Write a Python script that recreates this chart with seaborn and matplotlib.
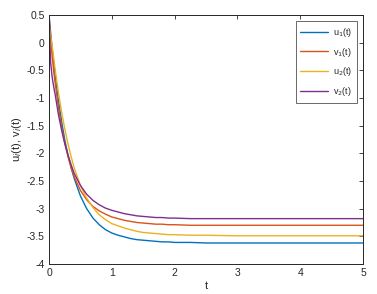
import numpy as np
import pandas as pd
import matplotlib
matplotlib.use("Agg")
import matplotlib.pyplot as plt
import seaborn as sns

# values
t = [0, 0.025, 0.05, 0.075, 0.1, 0.15, 0.2, 0.25, 0.3, 0.35, 0.4, 0.5, 0.6, 0.7, 0.8, 0.9, 1.0,
     1.1, 1.2, 1.3, 1.4, 1.5, 1.6, 1.7, 1.8, 1.9, 2.0, 2.25, 2.5, 3.0, 4.0, 5.0]
u1 = [0.5, 0.19, -0.10, -0.37, -0.61, -1.05, -1.42, -1.75, -2.02, -2.25, -2.45, -2.77, -3.00, -3.17,
      -3.29, -3.38, -3.44, -3.48, -3.51, -3.54, -3.56, -3.57, -3.58, -3.59, -3.60, -3.60, -3.61,
      -3.61, -3.62, -3.62, -3.62, -3.62]
v1 = [0.5, 0.10, -0.25, -0.52, -0.75, -1.17, -1.52, -1.81, -2.05, -2.25, -2.42, -2.67, -2.84, -2.96,
      -3.04, -3.10, -3.15, -3.18, -3.21, -3.23, -3.25, -3.26, -3.27, -3.28, -3.28, -3.29, -3.29,
      -3.30, -3.30, -3.30, -3.30, -3.30]
u2 = [0.3, 0.13, -0.05, -0.28, -0.50, -0.90, -1.25, -1.55, -1.82, -2.05, -2.26, -2.58, -2.81, -2.98,
      -3.11, -3.20, -3.27, -3.31, -3.35, -3.38, -3.41, -3.43, -3.44, -3.45, -3.46, -3.47, -3.47,
      -3.48, -3.48, -3.49, -3.49, -3.49]
v2 = [0.5, -0.35, -0.62, -0.80, -0.95, -1.30, -1.58, -1.82, -2.02, -2.20, -2.36, -2.58, -2.74, -2.85,
      -2.93, -2.99, -3.03, -3.06, -3.09, -3.11, -3.13, -3.14, -3.15, -3.16, -3.16, -3.17, -3.17,
      -3.18, -3.18, -3.18, -3.18, -3.18]
names = ["u$_1$(t)", "v$_1$(t)", "u$_2$(t)", "v$_2$(t)"]
colors = ["#0072BD", "#D95319", "#EDB120", "#7E2F8E"]

df = pd.DataFrame({"t": t * 4,
                   "val": u1 + v1 + u2 + v2,
                   "series": np.repeat(names, len(t))})

sns.set_style("white")
plt.rcParams["font.family"] = ["Liberation Sans", "DejaVu Sans"]

fig = plt.figure(figsize=(3.77, 2.94), dpi=100)
ax = fig.add_axes([0.130, 0.102, 0.833, 0.847])
sns.lineplot(data=df, x="t", y="val", hue="series", palette=colors, linewidth=1.0, ax=ax)

ax.set_xlim(0, 5)
ax.set_ylim(-4, 0.5)
ax.set_xticks(range(6))
yt = np.arange(-4, 0.51, 0.5)
ax.set_yticks(yt)
ax.set_yticklabels([f"{v:g}" for v in yt])
ax.tick_params(direction="in", length=3, width=0.6, top=True, right=True,
               labelsize=7.5, colors="#262626", pad=3)
for s in ax.spines.values():
    s.set_color("#262626")
    s.set_linewidth(0.7)

ax.set_xlabel("t", fontsize=8, color="#262626", labelpad=2)
ax.set_ylabel("u$_i$(t), v$_i$(t)", fontsize=8, color="#262626", labelpad=2)

leg = ax.legend(loc="upper right", fontsize=6.5, handlelength=3.1, frameon=True,
                fancybox=False, edgecolor="#262626", borderaxespad=0.7,
                labelspacing=0.75, handletextpad=0.5, borderpad=0.5)
leg.get_frame().set_linewidth(0.6)

fig.savefig("out.png", dpi=100)
